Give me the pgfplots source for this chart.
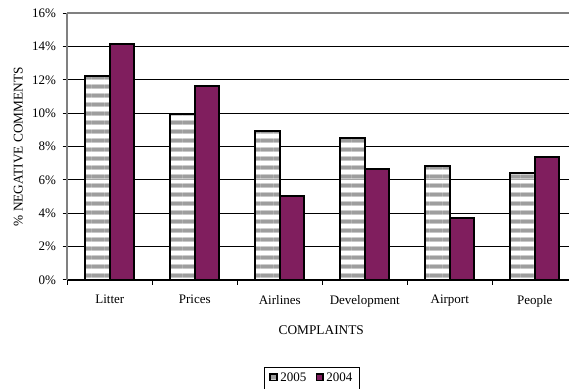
\documentclass[border=0pt]{standalone}
\usepackage{pgfplots}
\pgfplotsset{compat=1.18}
\usepackage{fontspec}
\setmainfont{Liberation Serif}
\usetikzlibrary{patterns}

\definecolor{plum}{RGB}{128,30,94}
\definecolor{stripegray}{RGB}{158,158,158}
\definecolor{stripelight}{RGB}{205,205,205}
\definecolor{frame}{RGB}{128,128,128}

% white/grey horizontal banding for the 2005 bars
\pgfdeclarepatterninherentlycolored{hbands}
  {\pgfpointorigin}{\pgfpoint{10pt}{7pt}}{\pgfpoint{10pt}{7pt}}
  {%
    \pgfsetfillcolor{white}%
    \pgfpathrectangle{\pgfpointorigin}{\pgfpoint{10pt}{7pt}}\pgfusepath{fill}%
    \pgfsetfillcolor{stripelight}%
    \pgfpathrectangle{\pgfpoint{0pt}{0pt}}{\pgfpoint{10pt}{4pt}}\pgfusepath{fill}%
    \pgfsetfillcolor{stripegray}%
    \pgfpathrectangle{\pgfpoint{0pt}{0.8pt}}{\pgfpoint{10pt}{2.4pt}}\pgfusepath{fill}%
  }

\pgfplotstableread{
x  y2005  y2004
0  12.24  14.16
1   9.96  11.64
2   8.96   5.04
3   8.54   6.64
4   6.86   3.74
5   6.44   7.36
}\complaints

\begin{document}
\begin{tikzpicture}
\begin{axis}[
  scale only axis,
  width=376.5pt, height=200pt,
  ybar=0pt, bar width=18.4pt,
  xmin=-0.5, xmax=5.406,
  ymin=0, ymax=16,
  ytick={0,2,...,16},
  yticklabel={\pgfmathprintnumber{\tick}\%},
  /pgf/number format/assume math mode=true,
  xtick={0,...,5},
  xticklabels={Litter,Prices,Airlines,Development,Airport,People},
  minor xtick={-0.5,0.5,...,4.5},
  major x tick style={draw=none},
  minor x tick style={black, line width=0.75pt},
  y tick style={black, line width=0.75pt},
  tick align=outside,
  major tick length=3.5pt, minor tick length=3.5pt,
  ymajorgrids,
  major grid style={black, line width=0.75pt},
  axis x line*=bottom,
  axis y line*=left,
  x axis line style={black, line width=0.9pt, -},
  y axis line style={frame, line width=1.6pt, -},
  tick label style={font=\fontsize{9.75}{11}\selectfont},
  xticklabel style={yshift=-4.5pt},
  yticklabel style={xshift=-1.5pt},
  label style={font=\fontsize{9.75}{11}\selectfont},
  xlabel={COMPLAINTS},
  ylabel={\% NEGATIVE COMMENTS},
  every axis x label/.style={at={(axis description cs:0.506,-0.19)},anchor=center},
  every axis y label/.style={at={(axis description cs:-0.0975,0.5)},anchor=center,rotate=90},
  legend columns=2,
  legend style={at={(axis description cs:0.488,-0.325)},anchor=north,
    draw=black, line width=0.6pt, font=\fontsize{9.75}{11}\selectfont,
    inner xsep=3.5pt, inner ysep=2.5pt,
    /tikz/every even column/.append style={column sep=5pt}},
  legend image code/.code={%
    \draw[#1, line width=1.1pt] (0pt,-1.8pt) rectangle (5pt,3.2pt);},
  clip=false,
  after end axis/.code={%
    \draw[frame, line width=1.6pt] (axis cs:-0.5,16) -- (axis cs:5.406,16);
  },
]
\addplot[draw=black, line width=1.3pt, pattern=hbands] table[x=x,y=y2005]{\complaints};
\addlegendentry{2005}
\addplot[draw=black, line width=1.3pt, fill=plum] table[x=x,y=y2004]{\complaints};
\addlegendentry{2004}
\end{axis}
\pgfresetboundingbox
\path[use as bounding box] (-50.5pt,-81.75pt) rectangle (376.3pt,210pt);
\end{tikzpicture}
\end{document}
